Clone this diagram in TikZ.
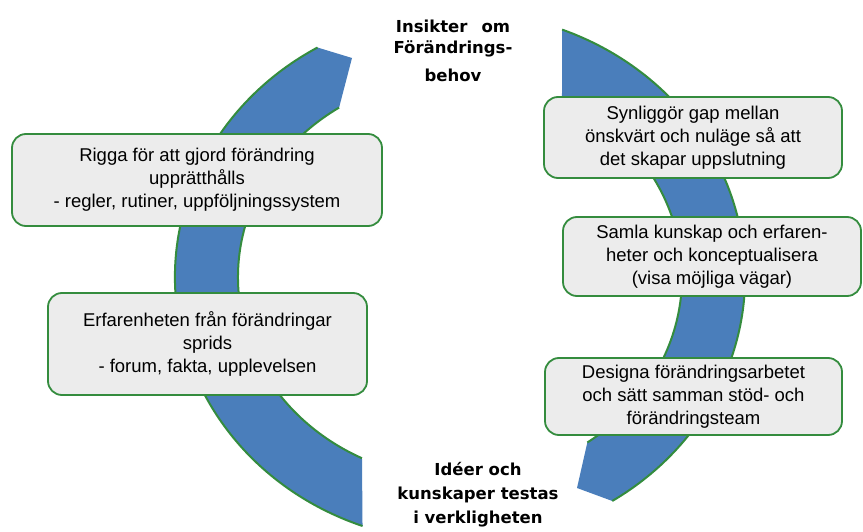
\documentclass[tikz,border=0pt]{standalone}
\usepackage{fontspec}
\setmainfont{Liberation Sans}
\newfontfamily\headfont{DejaVu Sans}
\usetikzlibrary{calc}
\definecolor{arcblue}{RGB}{74,126,187}
\definecolor{rimgreen}{RGB}{52,140,62}
\definecolor{boxgray}{RGB}{236,236,236}

\begin{document}
\begin{tikzpicture} [x=1pt, y=1pt,
                every node/.style={align=center, font=\fontsize{18.5}{23}\selectfont},
                textbox/.style={draw=rimgreen, line width=1.8pt, fill=boxgray, rounded corners=14pt, inner sep=0pt},
                rim/.style={draw=rimgreen, line width=2pt}]
                \tikzset{heading/.style={font=\headfont\bfseries\fontsize{16.5}{24}\selectfont}}
                \useasboundingbox (0,0) rectangle (863,531);
                \coordinate (c) at (460,254);
                % left band, going up
                \fill[arcblue] (c) ++(250:285 and 265) arc[start angle=250, end angle=120, x radius=285pt, y radius=265pt]
                    -- (352,473) -- ($(c)+(123:222 and 202)$) arc[start angle=123, end angle=243.8, x radius=222pt, y radius=202pt] -- cycle;
                \draw[rim] (c) ++(250:285 and 265) arc[start angle=250, end angle=120, x radius=285pt, y radius=265pt];
                \draw[rim] (c) ++(123:222 and 202) arc[start angle=123, end angle=243.8, x radius=222pt, y radius=202pt];
                % right band, going down
                \fill[arcblue] (c) ++(69:285 and 265) arc[start angle=69, end angle=-57.7, x radius=285pt, y radius=265pt]
                    -- (577,43) -- ($(c)+(-55:222 and 202)$) arc[start angle=-55, end angle=62.65, x radius=222pt, y radius=202pt] -- cycle;
                \draw[rim] (c) ++(69:285 and 265) arc[start angle=69, end angle=-57.7, x radius=285pt, y radius=265pt];
                \draw[rim] (c) ++(-55:222 and 202) arc[start angle=-55, end angle=62.65, x radius=222pt, y radius=202pt];
                \node[heading] (insikt) at (453,480) {Insikter\hspace{0.5em} om\\[-3pt]Förändrings-\\[4pt]behov};
                \node[heading] (ideer) at (478,36) {Idéer och\\kunskaper testas\\i verkligheten};
                \node[textbox, minimum width=370pt, minimum height=92pt] (rigga) at (197,351) {Rigga för att gjord förändring\\upprätthålls\\- regler, rutiner, uppföljningssystem};
                \node[textbox, minimum width=319pt, minimum height=102pt] (sprids) at (207.5,187) {Erfarenheten från förändringar\\sprids\\- forum, fakta, upplevelsen};
                \node[textbox, minimum width=298pt, minimum height=81pt] (synlig) at (693,393.5) {Synliggör gap mellan\\önskvärt och nuläge så att\\det skapar uppslutning};
                \node[textbox, minimum width=298pt, minimum height=79pt] (samla) at (712,274.5) {Samla kunskap och erfaren-\\heter och konceptualisera\\(visa möjliga vägar)};
                \node[textbox, minimum width=297pt, minimum height=77pt] (designa) at (693.5,134.5) {Designa förändringsarbetet\\och sätt samman stöd- och\\förändringsteam};
            \end{tikzpicture}
\end{document}
